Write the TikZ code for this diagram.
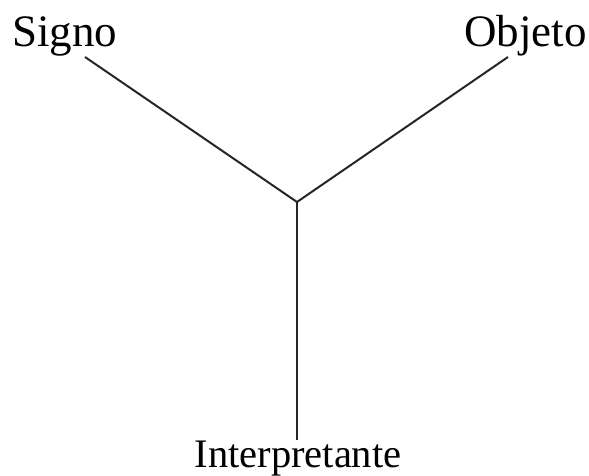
\documentclass[tikz,border=0pt]{standalone}
\usepackage{fontspec}
\setmainfont{Liberation Serif}
\begin{document}
\begin{tikzpicture}[x=1pt,y=1pt,
  lbl/.style={inner sep=0pt,font=\fontsize{45}{52}\selectfont},
  edge/.style={line width=2pt,black!85}]
\useasboundingbox (0,0) rectangle (589,476);
\node[lbl,anchor=base west] (signo) at (12,429) {Signo};
\node[lbl,anchor=base east] (objeto) at (587,429) {Objeto};
\node[lbl,anchor=base,font=\fontsize{40.5}{48}\selectfont] (interp) at (298,8) {Interpretante};
\coordinate (c) at (297,274);
\coordinate (s) at (85,419);
\coordinate (o) at (508,419);
\coordinate (i) at (297,36);
\draw[edge] (s) -- (c) -- (o);
\draw[edge] (c) -- (i);
\end{tikzpicture}
\end{document}
